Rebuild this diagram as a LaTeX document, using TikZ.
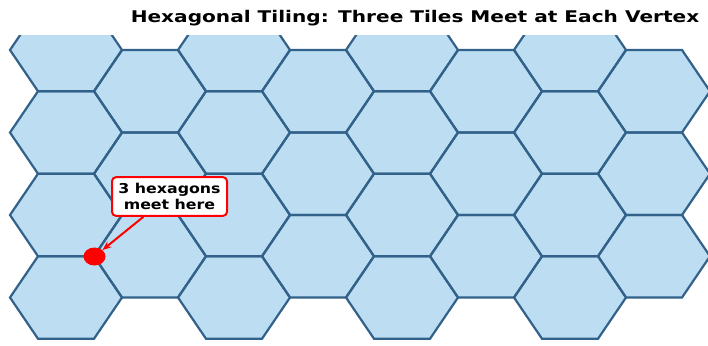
\documentclass[tikz,border=0pt]{standalone}
\usepackage{fontspec}
\setmainfont{DejaVu Sans}
\usetikzlibrary{shapes.geometric,arrows.meta}
\definecolor{hexfill}{RGB}{189,221,242}
\definecolor{hexedge}{RGB}{50,98,138}
\tikzset{
  hexfillst/.style={fill=hexfill},
  hexedgest/.style={draw=hexedge,line width=2.2pt,line join=miter},
  labelbox/.style={draw=red,line width=2pt,fill=white,rounded corners=4pt,
    align=center,minimum width=115pt,minimum height=45pt,inner sep=2pt,
    font={\fontsize{15.8}{18}\selectfont\bfseries},yscale=0.86,transform shape},
  reddot/.style={ellipse,fill=red,minimum width=22pt,minimum height=18pt,inner sep=0pt},
  redarrow/.style={draw=red,line width=2pt,-{Stealth[length=9pt,width=7pt]}},
  titlest/.style={font={\fontsize{20.1}{22}\selectfont\bfseries},yscale=0.8,transform shape,inner sep=0pt}
}
\newcommand{\hexpath}[2]{({#1-56},#2) -- ({#1-28},{#2-41.25}) -- ({#1+28},{#2-41.25}) -- ({#1+56},#2) -- ({#1+28},{#2+41.25}) -- ({#1-28},{#2+41.25}) -- cycle}
\begin{document}
\begin{tikzpicture}[x=1pt,y=-1pt]
\useasboundingbox (0,0) rectangle (708,345);
\fill[white] (0,0) rectangle (708,345);
\begin{scope}
\clip (0,36) rectangle (708,345);
\foreach \cx in {66,234,402,570}{
  \foreach \cy in {50,132.5,215,297.5}{
    \path[hexfillst] \hexpath{\cx}{\cy};
  }
}
\foreach \cx in {150,318,486,654}{
  \foreach \cy in {91.25,173.75,256.25}{
    \path[hexfillst] \hexpath{\cx}{\cy};
  }
}
\foreach \cx in {66,234,402,570}{
  \foreach \cy in {50,132.5,215,297.5}{
    \path[hexedgest] \hexpath{\cx}{\cy};
  }
}
\foreach \cx in {150,318,486,654}{
  \foreach \cy in {91.25,173.75,256.25}{
    \path[hexedgest] \hexpath{\cx}{\cy};
  }
}
\end{scope}
\node[titlest,anchor=base] (title) at (415,23) {Hexagonal Tiling: Three Tiles Meet at Each Vertex};
\node[reddot] (dot) at (94.5,256.5) {};
\node[labelbox] (lbl) at (169.5,196.5) {3 hexagons\\meet here};
\draw[redarrow] ([xshift=-26pt]lbl.south) -- (dot);
\end{tikzpicture}
\end{document}
